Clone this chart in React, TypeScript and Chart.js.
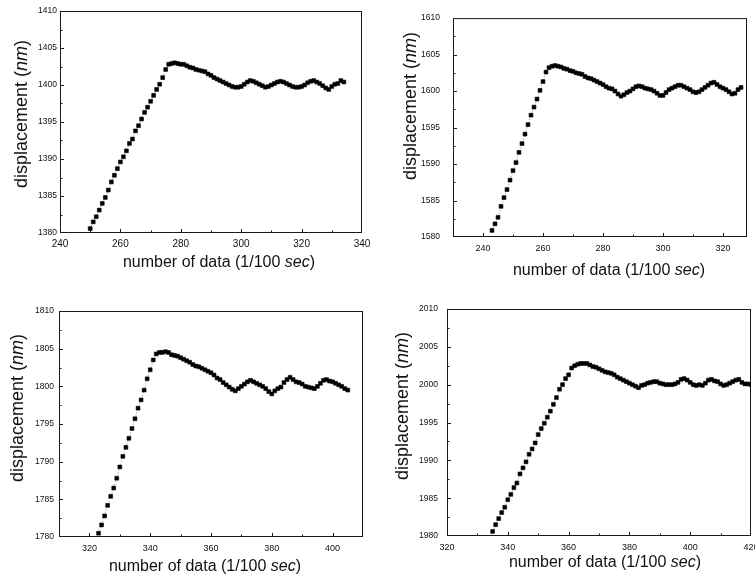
import { useEffect, useRef } from "react";
import { Chart, registerables } from "chart.js";

Chart.register(...registerables);

// ---------- data ----------
const P1_START = 250;
const P1_VALUES = [
  1380.6, 1381.5, 1382.2, 1383.1, 1384.0, 1384.8, 1385.8, 1386.9, 1387.8, 1388.7,
  1389.6, 1390.3, 1391.1, 1392.1, 1392.7, 1393.8, 1394.5, 1395.4, 1396.3, 1397.0,
  1397.8, 1398.6, 1399.4, 1400.1, 1401.0, 1402.1, 1402.8,
  1402.9, 1403.0, 1402.9, 1402.8, 1402.8, 1402.6, 1402.4, 1402.3, 1402.1, 1402.0,
  1401.9, 1401.8, 1401.5, 1401.3, 1401.0, 1400.8, 1400.6, 1400.4, 1400.2, 1400.0,
  1399.8, 1399.7, 1399.7, 1399.8, 1400.1, 1400.4, 1400.6, 1400.5, 1400.3, 1400.1,
  1399.9, 1399.7, 1399.8, 1400.0, 1400.2, 1400.4, 1400.5, 1400.4, 1400.2, 1400.0,
  1399.8, 1399.7, 1399.7, 1399.8, 1400.0, 1400.3, 1400.5, 1400.6, 1400.4, 1400.2,
  1399.9, 1399.6, 1399.4, 1399.8, 1400.1, 1400.2, 1400.6, 1400.4,
];

const P2_START = 243;
const P2_VALUES = [
  1580.9, 1581.8, 1582.7, 1584.2, 1585.4, 1586.5, 1587.8, 1589.1, 1590.2, 1591.6,
  1592.8, 1594.1, 1595.4, 1596.7, 1597.8, 1598.9, 1600.1, 1601.3, 1602.6, 1603.2,
  1603.4,
  1603.5, 1603.4, 1603.3, 1603.1, 1603.0, 1602.8, 1602.7, 1602.5, 1602.4, 1602.3,
  1602.0, 1601.8, 1601.7, 1601.5, 1601.3, 1601.1, 1600.9, 1600.6, 1600.4, 1600.3,
  1600.0, 1599.6, 1599.3, 1599.5, 1599.8, 1600.0, 1600.3, 1600.6, 1600.7, 1600.6,
  1600.4, 1600.3, 1600.2, 1600.0, 1599.7, 1599.4, 1599.4, 1599.8, 1600.2, 1600.4,
  1600.6, 1600.8, 1600.8, 1600.6, 1600.4, 1600.2, 1599.9, 1599.8, 1599.9, 1600.2,
  1600.5, 1600.8, 1601.1, 1601.2, 1600.9, 1600.6, 1600.4, 1600.2, 1599.9, 1599.6,
  1599.7, 1600.2, 1600.5,
];

const P3_START = 323;
const P3_VALUES = [
  1780.5, 1781.6, 1782.8, 1784.2, 1785.4, 1786.5, 1787.8, 1789.3, 1790.7, 1791.9,
  1793.1, 1794.4, 1795.7, 1797.1, 1798.2, 1799.5, 1801.0, 1802.2, 1803.5, 1804.3,
  1804.5, 1804.5, 1804.6, 1804.5, 1804.2, 1804.1, 1804.0, 1803.8, 1803.6, 1803.4,
  1803.2, 1802.9, 1802.7, 1802.6, 1802.4, 1802.2, 1802.0, 1801.8, 1801.5, 1801.1,
  1800.9, 1800.5, 1800.2, 1799.9, 1799.6, 1799.4, 1799.7, 1800.0, 1800.3, 1800.6,
  1800.8, 1800.6, 1800.4, 1800.2, 1800.0, 1799.7, 1799.3, 1799.0, 1799.4, 1799.7,
  1799.9, 1800.5, 1800.9, 1801.2, 1800.9, 1800.6, 1800.5, 1800.3, 1800.0, 1799.9,
  1799.8, 1799.7, 1800.0, 1800.4, 1800.8, 1800.9, 1800.7, 1800.6, 1800.4, 1800.2,
  1800.0, 1799.7, 1799.5,
];

const P4_START = 335;
const P4_VALUES = [
  1980.6, 1981.5, 1982.3, 1983.1, 1983.8, 1984.8, 1985.5, 1986.4, 1987.0, 1988.2,
  1989.0, 1989.8, 1990.8, 1991.5, 1992.3, 1993.4, 1994.2, 1994.9, 1995.7, 1996.5,
  1997.4, 1998.3, 1999.4, 2000.0, 2000.8, 2001.3, 2002.2, 2002.5,
  2002.7, 2002.8, 2002.8, 2002.8, 2002.6, 2002.4, 2002.3, 2002.1, 2001.9, 2001.7,
  2001.6, 2001.5, 2001.3, 2001.0, 2000.8, 2000.6, 2000.4, 2000.2, 2000.0, 1999.8,
  1999.6, 1999.9, 2000.0, 2000.2, 2000.3, 2000.4, 2000.4, 2000.2, 2000.1, 2000.0,
  2000.0, 2000.0, 2000.1, 2000.3, 2000.7, 2000.8, 2000.6, 2000.3, 2000.0, 1999.9,
  2000.0, 1999.9, 2000.2, 2000.6, 2000.7, 2000.5, 2000.4, 2000.1, 1999.9, 2000.0,
  2000.2, 2000.4, 2000.6, 2000.7, 2000.3, 2000.1, 2000.1, 2000.0,
];

const P1_X_TICKS = [240, 260, 280, 300, 320, 340];
const P2_X_TICKS = [240, 260, 280, 300, 320];
const P3_X_TICKS = [320, 340, 360, 380, 400];
const P4_X_TICKS = [320, 340, 360, 380, 400, 420];

const P1_Y_TICKS = [1380, 1385, 1390, 1395, 1400, 1405, 1410];
const P2_Y_TICKS = [1580, 1585, 1590, 1595, 1600, 1605, 1610];
const P3_Y_TICKS = [1780, 1785, 1790, 1795, 1800, 1805, 1810];
const P4_Y_TICKS = [1980, 1985, 1990, 1995, 2000, 2005, 2010];

const X_TITLE = [
  { text: "number of data (1/100 ", italic: false },
  { text: "sec", italic: true },
  { text: ")", italic: false },
];
const Y_TITLE = [
  { text: "displacement (", italic: false },
  { text: "nm", italic: true },
  { text: ")", italic: false },
];

const FONT = "'Liberation Sans', Arial, Helvetica, sans-serif";

type Panel = {
  start: number;
  values: number[];
  xTicks: number[];
  yTicks: number[];
  xMin: number;
  xMax: number;
  left: number;
  top: number;
  width: number;
  height: number;
  area: { l: number; t: number; r: number; b: number };
  xFont: number;
  xPad: number;
  yPad: number;
  xTitle: { x: number; y: number };
  yTitle: { x: number; y: number };
};

const PANELS: Panel[] = [
  {
    start: P1_START, values: P1_VALUES, xTicks: P1_X_TICKS, yTicks: P1_Y_TICKS,
    xMin: 240, xMax: 340,
    left: 0, top: 0, width: 378, height: 289,
    area: { l: 60, t: 11, r: 362, b: 233 },
    xFont: 10, xPad: 5, yPad: 3,
    xTitle: { x: 219, y: 263 }, yTitle: { x: 22, y: 114 },
  },
  {
    start: P2_START, values: P2_VALUES, xTicks: P2_X_TICKS, yTicks: P2_Y_TICKS,
    xMin: 230, xMax: 328,
    left: 378, top: 0, width: 377, height: 289,
    area: { l: 75, t: 13, r: 369, b: 237 },
    xFont: 9, xPad: 6.5, yPad: 13,
    xTitle: { x: 231, y: 271 }, yTitle: { x: 33, y: 106 },
  },
  {
    start: P3_START, values: P3_VALUES, xTicks: P3_X_TICKS, yTicks: P3_Y_TICKS,
    xMin: 310, xMax: 410,
    left: 0, top: 289, width: 378, height: 289,
    area: { l: 59, t: 22, r: 363, b: 248 },
    xFont: 9, xPad: 6.5, yPad: 5,
    xTitle: { x: 205, y: 278 }, yTitle: { x: 18, y: 119 },
  },
  {
    start: P4_START, values: P4_VALUES, xTicks: P4_X_TICKS, yTicks: P4_Y_TICKS,
    xMin: 320, xMax: 420,
    left: 378, top: 289, width: 400, height: 289,
    area: { l: 69, t: 20, r: 373, b: 247 },
    xFont: 9, xPad: 6.5, yPad: 9,
    xTitle: { x: 227, y: 274 }, yTitle: { x: 25, y: 117 },
  },
];

function drawRich(
  ctx: CanvasRenderingContext2D,
  parts: { text: string; italic: boolean }[],
  size: number
) {
  const widths: number[] = [];
  let total = 0;
  for (const p of parts) {
    ctx.font = `${p.italic ? "italic " : ""}${size}px ${FONT}`;
    const w = ctx.measureText(p.text).width;
    widths.push(w);
    total += w;
  }
  let x = -total / 2;
  parts.forEach((p, i) => {
    ctx.font = `${p.italic ? "italic " : ""}${size}px ${FONT}`;
    ctx.fillText(p.text, x, 0);
    x += widths[i];
  });
}

function makeFramePlugin(p: Panel) {
  return {
    id: "frameAndTitles",
    beforeDatasetsDraw(chart: any) {
      const { ctx, chartArea: a, scales } = chart;
      const xs = scales.x;
      const ys = scales.y;
      ctx.save();
      ctx.strokeStyle = "#1a1a1a";
      ctx.lineWidth = 1;
      ctx.strokeRect(a.left + 0.5, a.top + 0.5, a.right - a.left - 1, a.bottom - a.top - 1);
      ctx.beginPath();
      const xMinor = 10;
      for (let v = Math.ceil(p.xMin / xMinor) * xMinor; v <= p.xMax; v += xMinor) {
        if (v <= p.xMin || v >= p.xMax) continue;
        const px = Math.round(xs.getPixelForValue(v)) + 0.5;
        const len = p.xTicks.includes(v) ? 4 : 2.5;
        ctx.moveTo(px, a.bottom);
        ctx.lineTo(px, a.bottom - len);
      }
      const yMin = p.yTicks[0];
      const yMax = p.yTicks[p.yTicks.length - 1];
      for (let v = yMin + 2.5; v < yMax; v += 2.5) {
        const py = Math.round(ys.getPixelForValue(v)) + 0.5;
        const len = p.yTicks.includes(v) ? 4 : 2.5;
        ctx.moveTo(a.left, py);
        ctx.lineTo(a.left + len, py);
      }
      ctx.stroke();
      ctx.restore();
    },
    afterDraw(chart: any) {
      const { ctx } = chart;
      ctx.save();
      ctx.fillStyle = "#111";
      ctx.textAlign = "left";
      ctx.textBaseline = "middle";
      ctx.translate(p.xTitle.x, p.xTitle.y);
      drawRich(ctx, X_TITLE, 16);
      ctx.restore();
      ctx.save();
      ctx.fillStyle = "#111";
      ctx.textAlign = "left";
      ctx.textBaseline = "middle";
      ctx.translate(p.yTitle.x, p.yTitle.y);
      ctx.rotate(-Math.PI / 2);
      drawRich(ctx, Y_TITLE, 18);
      ctx.restore();
    },
  };
}

function PanelChart({ p }: { p: Panel }) {
  const ref = useRef<HTMLCanvasElement | null>(null);
  useEffect(() => {
    if (!ref.current) return;
    const points = p.values.map((v, i) => ({ x: p.start + i, y: v }));
    const chart = new Chart(ref.current, {
      type: "scatter",
      data: {
        datasets: [
          {
            data: points,
            showLine: true,
            borderColor: "rgba(0,0,0,0.55)",
            borderWidth: 0.8,
            borderDash: [1, 2],
            pointStyle: "rect",
            pointRadius: 2.7,
            pointBackgroundColor: "#000",
            pointBorderColor: "#000",
            pointBorderWidth: 0.6,
          } as any,
        ],
      },
      options: {
        responsive: false,
        animation: false,
        events: [],
        layout: {
          padding: {
            left: 0,
            top: p.area.t,
            right: p.width - p.area.r,
            bottom: 0,
          },
        },
        plugins: {
          legend: { display: false },
          tooltip: { enabled: false },
        },
        scales: {
          x: {
            type: "linear",
            min: p.xMin,
            max: p.xMax,
            grid: { display: false, drawTicks: false },
            border: { display: false },
            ticks: {
              color: "#111",
              font: { family: FONT, size: p.xFont },
              padding: p.xPad,
              maxRotation: 0,
              autoSkip: false,
              callback: (v: any) => String(v),
            },
            afterBuildTicks: (s: any) => {
              s.ticks = p.xTicks.map((v) => ({ value: v }));
            },
            afterFit: (s: any) => {
              s.height = p.height - p.area.b;
            },
          },
          y: {
            type: "linear",
            min: p.yTicks[0],
            max: p.yTicks[p.yTicks.length - 1],
            grid: { display: false, drawTicks: false },
            border: { display: false },
            ticks: {
              color: "#111",
              font: { family: FONT, size: 8.5 },
              padding: p.yPad,
              autoSkip: false,
              callback: (v: any) => String(v),
            },
            afterBuildTicks: (s: any) => {
              s.ticks = p.yTicks.map((v) => ({ value: v }));
            },
            afterFit: (s: any) => {
              s.width = p.area.l;
            },
          },
        },
      } as any,
      plugins: [makeFramePlugin(p)],
    });
    return () => chart.destroy();
  }, [p]);
  return (
    <div
      style={{
        position: "absolute",
        left: p.left,
        top: p.top,
        width: p.width,
        height: p.height,
      }}
    >
      <canvas
        ref={ref}
        width={p.width}
        height={p.height}
        style={{ width: p.width, height: p.height }}
      />
    </div>
  );
}

export default function App() {
  return (
    <div
      style={{
        position: "absolute",
        left: 0,
        top: 0,
        width: 755,
        height: 578,
        overflow: "hidden",
        background: "#fff",
      }}
    >
      {PANELS.map((p, i) => (
        <PanelChart key={i} p={p} />
      ))}
    </div>
  );
}
